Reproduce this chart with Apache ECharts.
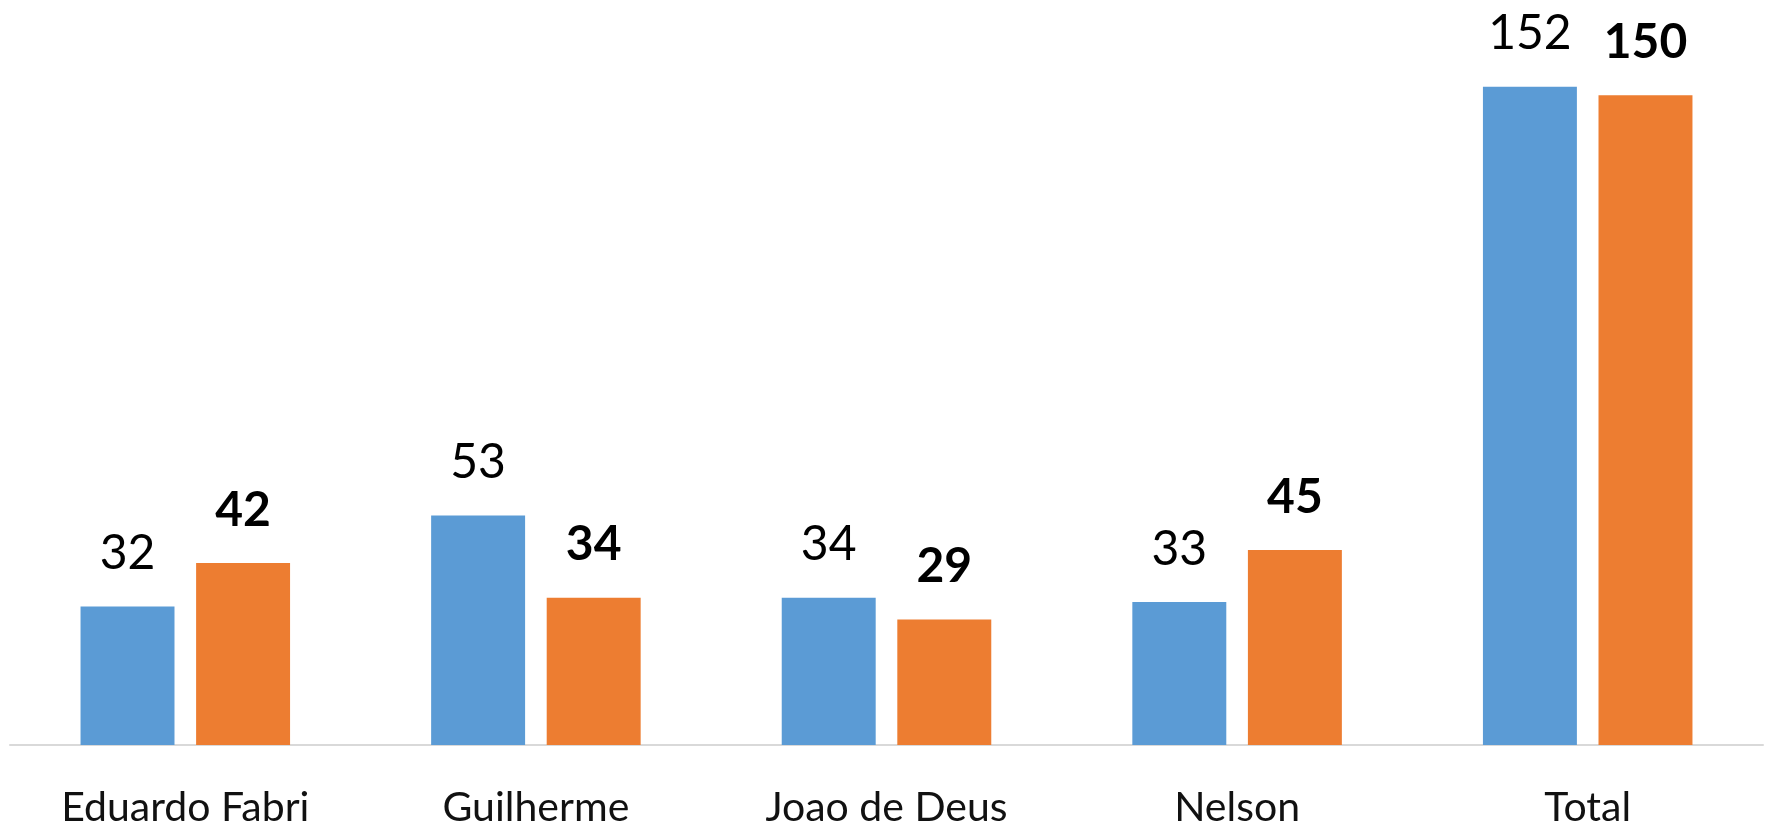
<!DOCTYPE html>
<html>
<head>
<meta charset="utf-8">
<script src="https://cdn.jsdelivr.net/npm/echarts@6/dist/echarts.min.js"></script>
<style>
html,body{margin:0;padding:0;background:#fff;}
#chart{width:1765px;height:825px;}
</style>
</head>
<body>
<div id="chart"></div>
<script>
var categories = ["Eduardo Fabri", "Guilherme", "Joao de Deus", "Nelson", "Total"];
var seriesA = [32, 53, 34, 33, 152];
var seriesB = [42, 34, 29, 45, 150];

var chart = echarts.init(document.getElementById('chart'));
chart.setOption({
  animation: false,
  backgroundColor: '#ffffff',
  grid: {left: 10, right: 2, top: 52, bottom: 80, containLabel: false, outerBoundsMode: 'none'},
  xAxis: {
    type: 'category',
    data: categories,
    axisLine: {show: true, lineStyle: {color: '#D9D9D9', width: 2}},
    axisTick: {show: false},
    axisLabel: {color: '#111', fontFamily: 'Lato', fontSize: 41, margin: 42}
  },
  yAxis: {
    type: 'value',
    min: 0, max: 160,
    show: false,
    splitLine: {show: false}
  },
  series: [
    {
      type: 'bar',
      data: seriesA,
      barWidth: '26.8%',
      barGap: '23%',
      itemStyle: {color: '#5B9BD5'},
      label: {show: true, position: 'top', distance: 29, color: '#000', fontFamily: 'Lato', fontSize: 48, fontWeight: 'normal'}
    },
    {
      type: 'bar',
      data: seriesB,
      barWidth: '26.8%',
      barGap: '23%',
      itemStyle: {color: '#ED7D31'},
      label: {show: true, position: 'top', distance: 29, color: '#000', fontFamily: 'Lato', fontSize: 48, fontWeight: 'bold'}
    }
  ]
});
</script>
</body>
</html>
